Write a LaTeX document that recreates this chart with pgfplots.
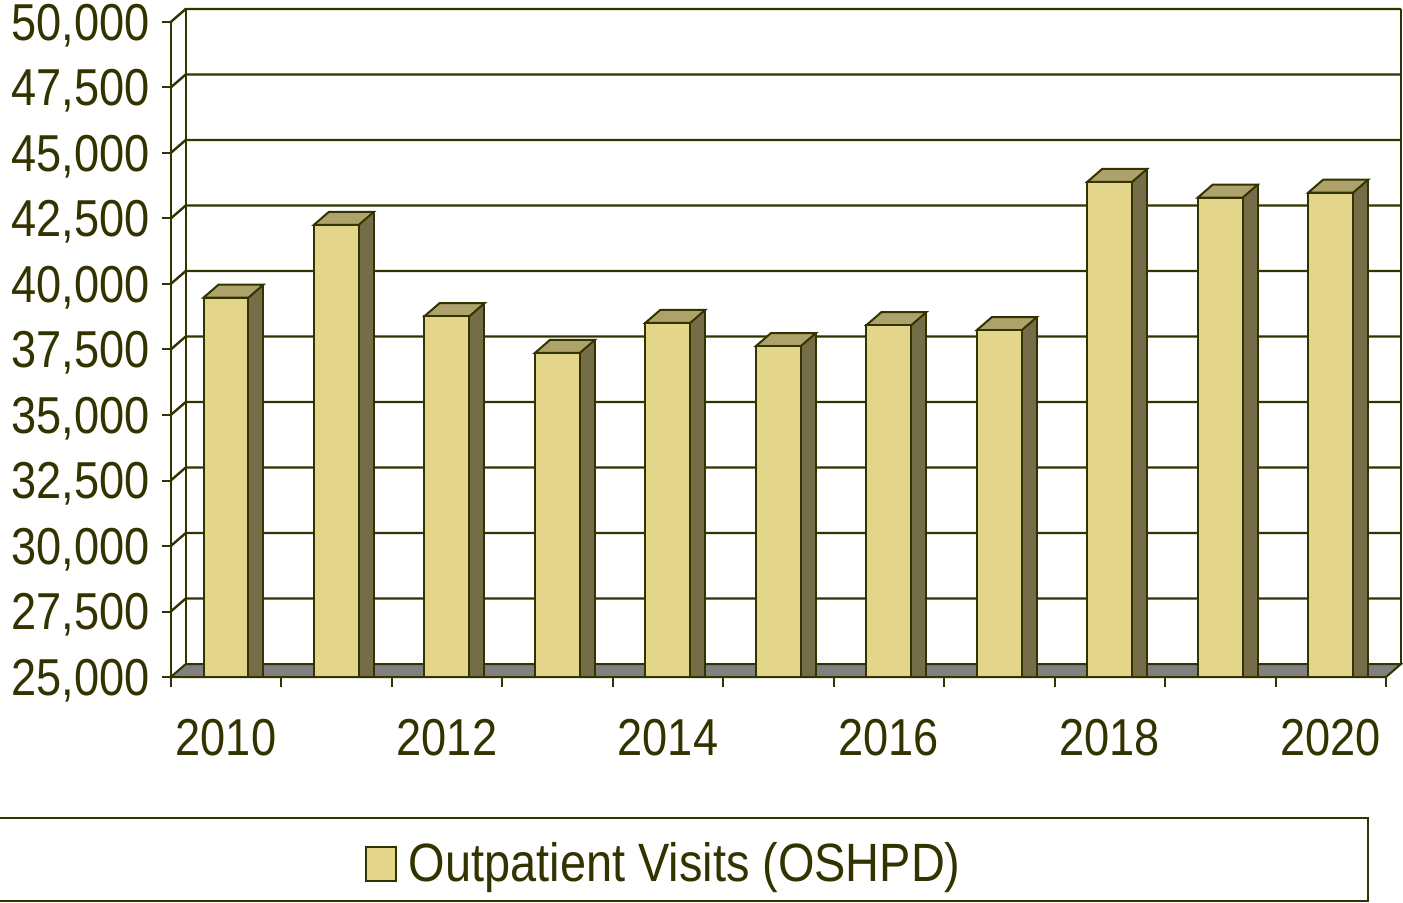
\documentclass[border=0pt]{standalone}
\usepackage{pgfplots}
\usepackage{pgfplotstable}
\pgfplotsset{compat=1.18}
\usepackage{fontspec}
\setmainfont{Liberation Sans}[FakeStretch=0.87]
\definecolor{frontc}{HTML}{E3D58A}
\definecolor{topc}{HTML}{ADA26A}
\definecolor{sidec}{HTML}{756D47}
\definecolor{outl}{HTML}{333300}
\definecolor{floorc}{HTML}{808080}
\newcommand\bigfont{\fontsize{26}{31}\selectfont}
\pgfdeclareplotmark{top3d}{%
  \pgfpathmoveto{\pgfqpoint{-11.25pt}{0pt}}%
  \pgfpathlineto{\pgfqpoint{11.25pt}{0pt}}%
  \pgfpathlineto{\pgfqpoint{18.75pt}{6.5pt}}%
  \pgfpathlineto{\pgfqpoint{-3.75pt}{6.5pt}}%
  \pgfpathclose
  \pgfusepathqfillstroke}
\pgfplotstableread{
x v
0 39480
1 42260
2 38770
3 37370
4 38520
5 37630
6 38430
7 38240
8 43900
9 43300
10 43490
}\datatable
\begin{document}
\begin{tikzpicture}
\begin{axis}[
  at={(0pt,0pt)}, anchor=south west,
  scale only axis, width=608.5pt, height=328pt,
  xmin=-0.5, xmax=10.5, ymin=25000, ymax=50000,
  clip mode=individual,
  axis line style={draw=none},
  xtick={0,2,4,6,8,10},
  xticklabels={2010,2012,2014,2016,2018,2020},
  minor xtick={-0.5,0.5,...,10.5},
  ytick={25000,27500,...,50000},
  scaled y ticks=false,
  xtick pos=bottom, ytick pos=left,
  tick align=outside,
  major tick length=4.5pt, minor tick length=5pt,
  major x tick style={draw=none},
  every tick/.style={outl, line width=1pt},
  minor x tick style={outl, line width=1pt},
  major y tick style={outl, line width=1pt},
  ticklabel style={font=\bigfont, text=outl},
  /pgf/number format/assume math mode=true,
  /pgf/number format/1000 sep={,},
  /pgf/number format/fixed,
  yticklabel style={anchor=east, inner sep=0pt, xshift=-6pt, yshift=-1.8pt},
  xticklabel style={anchor=center, inner sep=0pt, yshift=-26pt},
  legend style={at={(rel axis cs:0.4065,-0.285)}, anchor=center, draw=none, fill=none,
    font=\fontsize{27}{32}\selectfont, text=outl, inner sep=0pt},
  legend image code/.code={\draw[fill=frontc, draw=outl, line width=1pt] (0pt,-8.5pt) rectangle (15pt,8.5pt); \path (19pt,0pt);},
]
% back wall and left wall
\pgfplotsinvokeforeach{27500,30000,32500,35000,37500,40000,42500,45000,47500,50000}{
  \draw[outl, line width=1.2pt] (axis cs:-0.5,#1) -- ++(7.5pt,6.5pt) -- ++(608.5pt,0pt);
}
\draw[outl, line width=1.2pt] (axis cs:-0.5,25000) -- (axis cs:-0.5,50000);
\draw[outl, line width=1.2pt] (axis cs:-0.5,25000) ++(7.5pt,6.5pt) -- ++(0pt,328pt);
\draw[outl, line width=1.2pt] (axis cs:10.5,25000) ++(7.5pt,6.5pt) -- ++(0pt,328pt);
% floor
\filldraw[fill=floorc, draw=outl, line width=1pt] (axis cs:-0.5,25000) -- (axis cs:10.5,25000) -- ++(7.5pt,6.5pt) -- ++(-608.5pt,0pt) -- cycle;
% side faces
\addplot[ybar, bar width=7.5pt, bar shift=15pt, fill=sidec, draw=outl, line width=1pt, forget plot]
  table[x=x, y expr=\thisrow{v}+495] {\datatable};
% top faces
\addplot[only marks, mark=top3d, mark options={fill=topc, draw=outl, line width=1pt}, forget plot]
  table[x=x, y=v] {\datatable};
% front faces
\addplot[ybar, bar width=22.5pt, bar shift=0pt, fill=frontc, draw=outl, line width=1pt]
  table[x=x, y=v] {\datatable};
\addlegendentry{Outpatient Visits (OSHPD)}
\end{axis}
\draw[outl, line width=1pt] (-87pt,-70.5pt) rectangle (599.5pt,-112.3pt);
\pgfresetboundingbox
\path[use as bounding box] (-85.5pt,-113pt) rectangle (617pt,339pt);
\end{tikzpicture}
\end{document}
